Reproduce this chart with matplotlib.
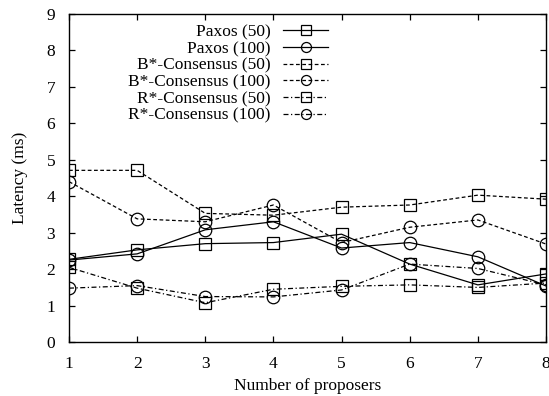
import matplotlib
matplotlib.use("Agg")
import matplotlib.pyplot as plt

proposers = [1, 2, 3, 4, 5, 6, 7, 8]
paxos_50 = [2.27, 2.53, 2.70, 2.73, 2.96, 2.14, 1.57, 1.87]
paxos_100 = [2.25, 2.42, 3.08, 3.30, 2.58, 2.73, 2.34, 1.54]
bstar_50 = [4.71, 4.71, 3.53, 3.48, 3.70, 3.76, 4.03, 3.92]
bstar_100 = [4.40, 3.38, 3.30, 3.76, 2.73, 3.15, 3.35, 2.69]
rstar_50 = [2.05, 1.48, 1.08, 1.45, 1.53, 1.57, 1.50, 1.62]
rstar_100 = [1.48, 1.55, 1.25, 1.24, 1.43, 2.14, 2.02, 1.57]

labels = ["Paxos (50)", "Paxos (100)", "B*-Consensus (50)", "B*-Consensus (100)",
          "R*-Consensus (50)", "R*-Consensus (100)"]

plt.rcParams['font.family'] = ['Liberation Serif', 'DejaVu Serif']
plt.rcParams['font.size'] = 12.5

fig = plt.figure(figsize=(5.49, 3.96), dpi=100)
ax = fig.add_axes([0.1257, 0.136, 0.8688, 0.829])

dashed = (0, (3, 2))
dashdot = (0, (4, 2, 1, 2))
series = [
    (paxos_50, 's', '-'),
    (paxos_100, 'o', '-'),
    (bstar_50, 's', dashed),
    (bstar_100, 'o', dashed),
    (rstar_50, 's', dashdot),
    (rstar_100, 'o', dashdot),
]
for (vals, mk, ls), lab in zip(series, labels):
    ax.plot(proposers, vals, color='black', linestyle=ls, linewidth=0.9,
            marker=mk, markersize=9, markerfacecolor='none',
            markeredgecolor='black', markeredgewidth=0.9, label=lab)

ax.set_xlim(1, 8)
ax.set_ylim(0, 9)
ax.set_xticks(proposers)
ax.set_yticks(range(0, 10))
ax.tick_params(direction='in', top=True, right=True, length=4, width=0.9,
               labelsize=12.5)
ax.tick_params(axis='x', pad=10)
ax.tick_params(axis='y', pad=10)
for s in ax.spines.values():
    s.set_linewidth(1.0)
ax.set_xlabel("Number of proposers", fontsize=12.5, labelpad=4)
ax.set_ylabel("Latency (ms)", fontsize=12.5, labelpad=13)

leg = ax.legend(loc='upper right', bbox_to_anchor=(0.565, 1.0), frameon=False,
                markerfirst=False, handlelength=2.6, labelspacing=0.03,
                fontsize=12.5, handletextpad=0.7, borderaxespad=0.2,
                markerscale=0.8)
for t in leg.get_texts():
    t.set_ha('right')
leg._legend_box.align = 'right'

fig.savefig("out.png", dpi=100)
